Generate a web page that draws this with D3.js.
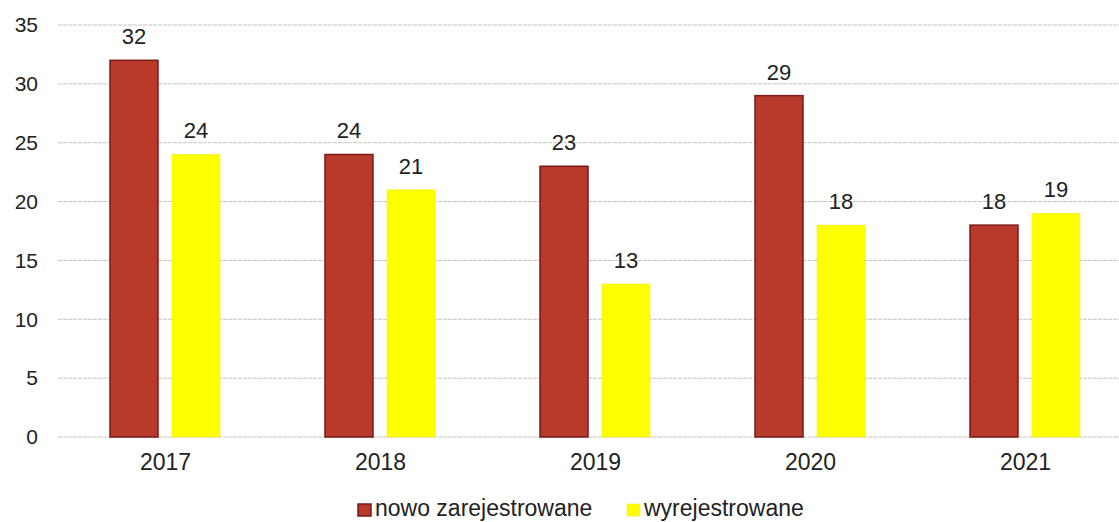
<!DOCTYPE html>
<html><head><meta charset="utf-8">
<script src="https://cdn.jsdelivr.net/npm/d3@7"></script>
<style>body{margin:0;background:#fff}svg{display:block;font-family:"Liberation Sans",Arial,sans-serif}</style>
</head><body><svg id="c" width="1119" height="522"></svg>
<script>
const categories = ["2017","2018","2019","2020","2021"];
const seriesNames = ["nowo zarejestrowane","wyrejestrowane"];
const nowoZarejestrowane = [32,24,23,29,18];
const wyrejestrowane = [24,21,13,18,19];
const yTicks = [0,5,10,15,20,25,30,35];
const colors = ["#b73a2a","#ffff00"];
const strokes = ["#7a1a1a","#e8e800"];

const svg = d3.select("#c");
const x = d3.scaleBand().domain(categories).range([58,1133]);
const y = d3.scaleLinear().domain([0,35]).range([437,25]);
const sub = d3.scaleBand().domain([0,1]).range([-55.5,54.5]).paddingInner(0.226);

// gridlines
svg.append("g").selectAll("line").data(yTicks).join("line")
  .attr("x1",58).attr("x2",1119).attr("y1",d=>y(d)).attr("y2",d=>y(d))
  .attr("stroke","#c4c4c4").attr("stroke-width",1).attr("stroke-dasharray","4,1");

// y axis labels
const ya = svg.append("g").attr("transform","translate(38,0)")
  .call(d3.axisLeft(y).tickValues(yTicks).tickSize(0).tickPadding(0));
ya.select(".domain").remove();
ya.selectAll("text").attr("font-size",21).attr("fill","#222").attr("font-family","Liberation Sans, Arial, sans-serif");

// x axis labels
const xa = svg.append("g").attr("transform","translate(0,452)")
  .call(d3.axisBottom(x).tickSize(0).tickPadding(0));
xa.select(".domain").remove();
xa.selectAll("text").attr("font-size",23).attr("fill","#222").attr("dy","0.8em").attr("font-family","Liberation Sans, Arial, sans-serif");

const series = [nowoZarejestrowane, wyrejestrowane];
series.forEach((vals,si)=>{
  const g = svg.append("g");
  g.selectAll("rect").data(vals).join("rect")
    .attr("x",(d,i)=>x(categories[i])+x.bandwidth()/2+sub(si))
    .attr("width",sub.bandwidth())
    .attr("y",d=>y(d)).attr("height",d=>y(0)-y(d))
    .attr("fill",colors[si]).attr("stroke",strokes[si]).attr("stroke-width",si===0?1.5:0.5);
  g.selectAll("text").data(vals).join("text")
    .attr("x",(d,i)=>x(categories[i])+x.bandwidth()/2+sub(si)+sub.bandwidth()/2)
    .attr("y",d=>y(d)-16)
    .attr("text-anchor","middle").attr("font-size",22).attr("fill","#222")
    .text(d=>d);
});

// legend
const legX = [358,627];
const lg = svg.append("g");
seriesNames.forEach((n,i)=>{
  lg.append("rect").attr("x",legX[i]).attr("y",504).attr("width",13).attr("height",12)
    .attr("fill",colors[i]).attr("stroke",strokes[i]).attr("stroke-width",i===0?1.5:0.5);
  lg.append("text").attr("x",legX[i]+17).attr("y",516).attr("font-size",23).attr("fill","#222").text(n);
});
</script></body></html>
